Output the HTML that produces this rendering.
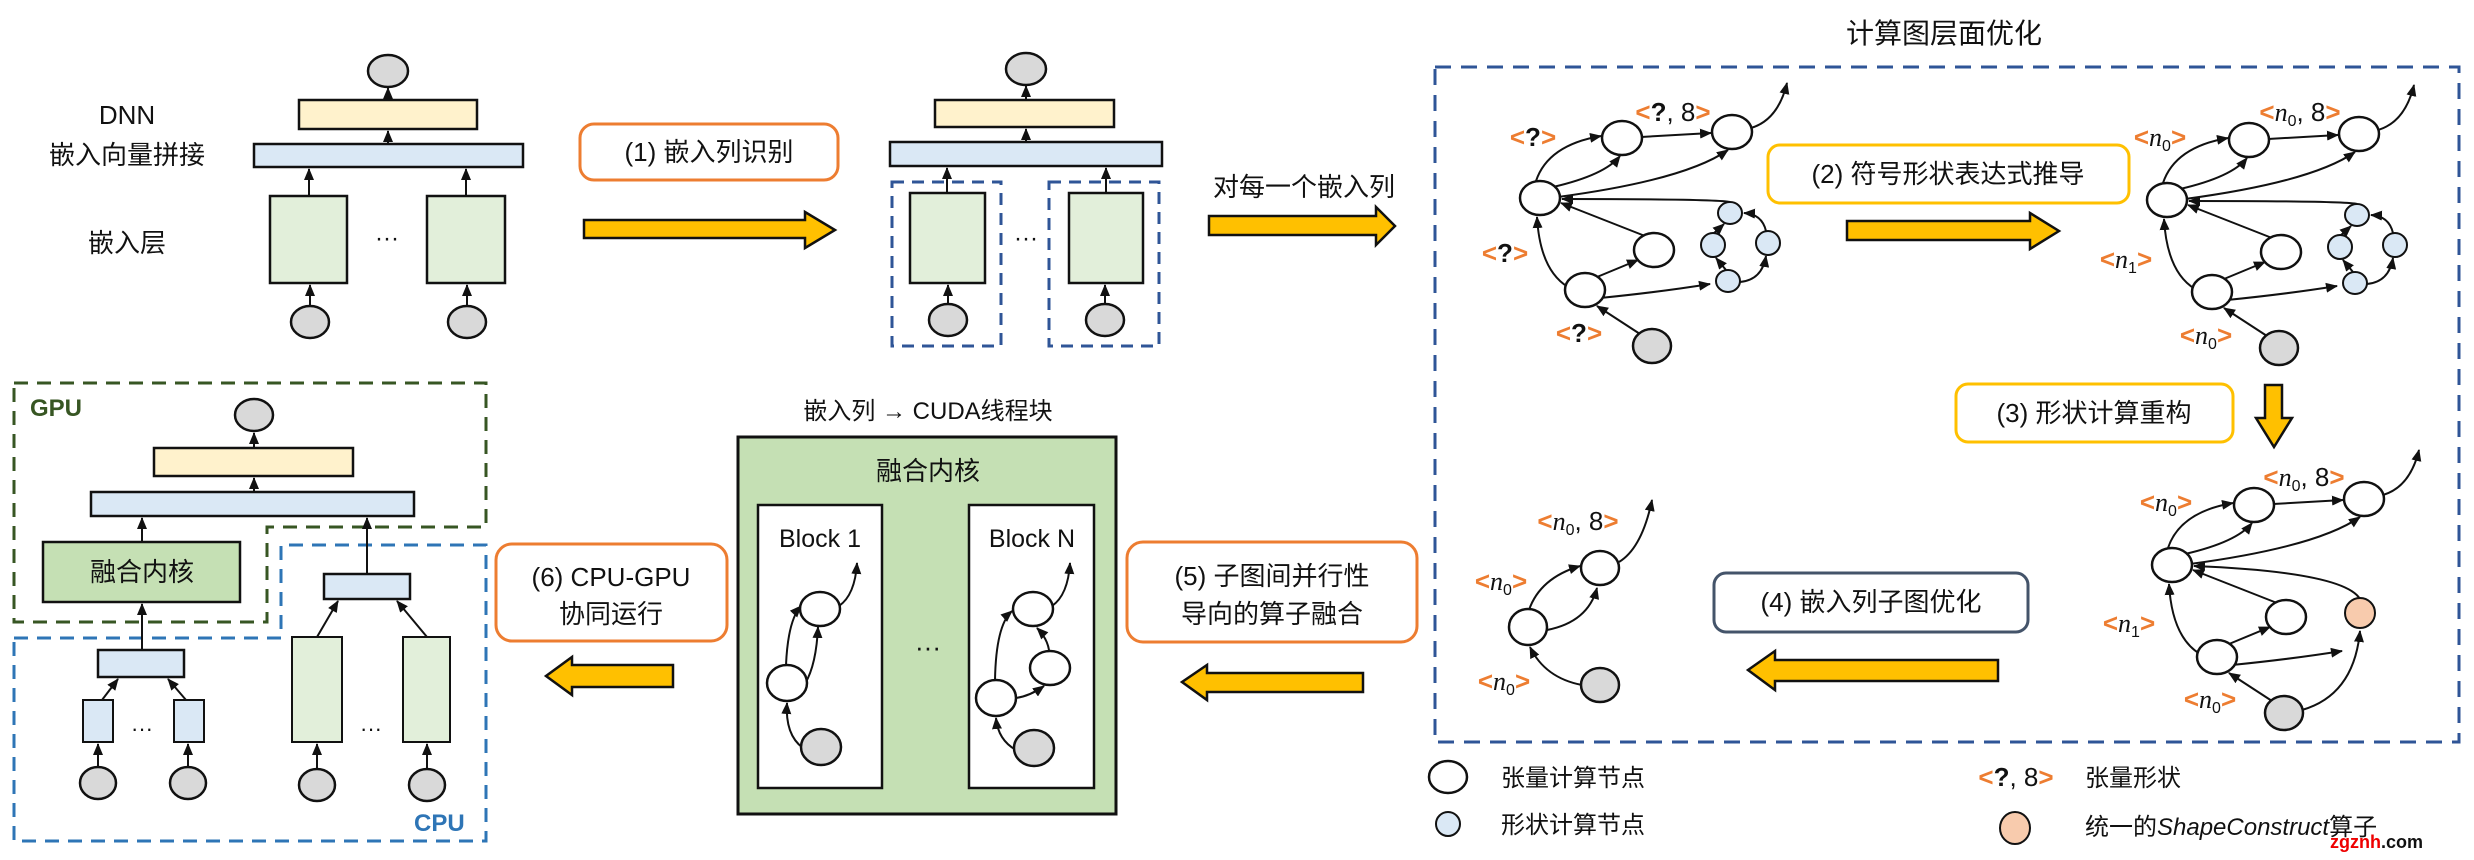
<!DOCTYPE html>
<html><head><meta charset="utf-8"><style>
html,body{margin:0;padding:0;background:#fff;}
svg{display:block;}
text{font-family:"Liberation Sans","Noto Sans CJK SC",sans-serif;fill:#111;}
.o{fill:#ed7d31;font-weight:bold;}
.q{font-weight:bold;}
.n{font-family:"Liberation Serif",serif;font-style:italic;}
.lb{font-size:26px;text-anchor:middle;}
.t26{font-size:26px;text-anchor:middle;}
.e{stroke:#111;stroke-width:2;fill:none;marker-end:url(#a);}
.nd{fill:#fff;stroke:#111;stroke-width:2.5;}
.sn{fill:#dae8f5;stroke:#111;stroke-width:2;}
.gr{fill:#d9d9d9;stroke:#111;stroke-width:2.5;}
.ya{fill:#ffc000;stroke:#111;stroke-width:2.5;}
</style></head><body>
<svg width="2474" height="860" viewBox="0 0 2474 860" xmlns="http://www.w3.org/2000/svg">
<defs>
<marker id="a" markerWidth="12" markerHeight="10" refX="11" refY="5" orient="auto" markerUnits="userSpaceOnUse"><path d="M0,0 L12,5 L0,10 z" fill="#111"/></marker>
<g id="gbase">
 <path class="e" d="M1536,181 Q1548,145 1601,136"/>
 <path class="e" d="M1641,137 L1711,133"/>
 <path class="e" d="M1553,187 Q1605,175 1620,156"/>
 <path class="e" d="M1558,197 Q1685,180 1728,150"/>
 <path class="e" d="M1751,128 Q1778,120 1787,83"/>
 <path class="e" d="M1645,236 L1561,203"/>
 <path class="e" d="M1568,287 Q1540,270 1537,217"/>
 <path class="e" d="M1597,277 L1638,260"/>
 <path class="e" d="M1600,298 Q1660,292 1710,284"/>
 <path class="e" d="M1640,334 L1597,306"/>
 <ellipse class="nd" cx="1540" cy="198" rx="20" ry="17"/>
 <ellipse class="nd" cx="1622" cy="138" rx="20" ry="17"/>
 <ellipse class="nd" cx="1732" cy="132" rx="20" ry="17"/>
 <ellipse class="nd" cx="1654" cy="250" rx="20" ry="17"/>
 <ellipse class="nd" cx="1585" cy="290" rx="20" ry="17"/>
 <ellipse class="gr" cx="1652" cy="346" rx="19" ry="17"/>
</g>
<g id="sblue">
 <path class="e" d="M1730,202 Q1720,199 1562,199"/>
 <path class="e" d="M1726,270 L1716,258"/>
 <path class="e" d="M1713,234 L1724,224"/>
 <path class="e" d="M1740,282 Q1762,280 1766,256"/>
 <path class="e" d="M1766,231 Q1762,214 1744,213"/>
 <ellipse class="sn" cx="1730" cy="213" rx="12" ry="11"/>
 <ellipse class="sn" cx="1713" cy="245" rx="12" ry="12"/>
 <ellipse class="sn" cx="1768" cy="243" rx="12" ry="12"/>
 <ellipse class="sn" cx="1728" cy="281" rx="12" ry="11"/>
</g>
</defs>

<!-- ===== top-left DNN ===== -->
<text class="t26" x="127" y="124">DNN</text>
<text class="t26" x="127" y="164">嵌入向量拼接</text>
<text class="t26" x="127" y="252">嵌入层</text>
<ellipse class="gr" cx="388" cy="71" rx="20" ry="16"/>
<line class="e" x1="388" y1="100" x2="388" y2="88"/>
<rect x="299" y="100" width="178" height="29" fill="#fff2cc" stroke="#111" stroke-width="2.5"/>
<line class="e" x1="388" y1="144" x2="388" y2="131"/>
<rect x="254" y="144" width="269" height="23" fill="#dae8f5" stroke="#111" stroke-width="2.5"/>
<line class="e" x1="309" y1="196" x2="309" y2="169"/>
<line class="e" x1="466" y1="196" x2="466" y2="169"/>
<rect x="270" y="196" width="77" height="87" fill="#e2efda" stroke="#111" stroke-width="2.5"/>
<rect x="427" y="196" width="78" height="87" fill="#e2efda" stroke="#111" stroke-width="2.5"/>
<text x="387" y="246" style="font-size:24px;text-anchor:middle">···</text>
<line class="e" x1="310" y1="306" x2="310" y2="285"/>
<line class="e" x1="467" y1="306" x2="467" y2="285"/>
<ellipse class="gr" cx="310" cy="322" rx="19" ry="16"/>
<ellipse class="gr" cx="467" cy="322" rx="19" ry="16"/>

<rect x="580" y="124" width="258" height="56" rx="14" fill="#fff" stroke="#ed7d31" stroke-width="3"/>
<text class="t26" x="709" y="161">(1) 嵌入列识别</text>
<polygon class="ya" points="584,220 805,220 805,212 835,230 805,248 805,238 584,238"/>

<!-- second DNN -->
<ellipse class="gr" cx="1026" cy="69" rx="20" ry="16"/>
<line class="e" x1="1026" y1="100" x2="1026" y2="86"/>
<rect x="935" y="100" width="179" height="27" fill="#fff2cc" stroke="#111" stroke-width="2.5"/>
<line class="e" x1="1026" y1="142" x2="1026" y2="129"/>
<rect x="890" y="142" width="272" height="24" fill="#dae8f5" stroke="#111" stroke-width="2.5"/>
<line class="e" x1="947" y1="193" x2="947" y2="168"/>
<line class="e" x1="1106" y1="193" x2="1106" y2="168"/>
<rect x="892" y="182" width="109" height="164" fill="none" stroke="#2f5597" stroke-width="3" stroke-dasharray="12,8"/>
<rect x="1049" y="182" width="110" height="164" fill="none" stroke="#2f5597" stroke-width="3" stroke-dasharray="12,8"/>
<rect x="910" y="193" width="75" height="90" fill="#e2efda" stroke="#111" stroke-width="2.5"/>
<rect x="1069" y="193" width="74" height="90" fill="#e2efda" stroke="#111" stroke-width="2.5"/>
<text x="1026" y="246" style="font-size:24px;text-anchor:middle">···</text>
<line class="e" x1="948" y1="304" x2="948" y2="285"/>
<line class="e" x1="1105" y1="304" x2="1105" y2="285"/>
<ellipse class="gr" cx="948" cy="320" rx="19" ry="16"/>
<ellipse class="gr" cx="1105" cy="320" rx="19" ry="16"/>

<text class="t26" x="1304" y="196">对每一个嵌入列</text>
<polygon class="ya" points="1209,216 1376,216 1376,207 1395,226 1376,245 1376,235 1209,235"/>

<!-- ===== right: graph optimization ===== -->
<text x="1944" y="43" style="font-size:28px;text-anchor:middle">计算图层面优化</text>
<rect x="1435" y="67" width="1024" height="675" fill="none" stroke="#2f5597" stroke-width="3" stroke-dasharray="16,10"/>

<!-- graph 1 -->
<use href="#gbase"/><use href="#sblue"/>
<text class="lb" x="1533" y="146"><tspan class="o">&lt;</tspan><tspan class="q">?</tspan><tspan class="o">&gt;</tspan></text>
<text class="lb" x="1673" y="121"><tspan class="o">&lt;</tspan><tspan class="q">?</tspan>, 8<tspan class="o">&gt;</tspan></text>
<text class="lb" x="1505" y="262"><tspan class="o">&lt;</tspan><tspan class="q">?</tspan><tspan class="o">&gt;</tspan></text>
<text class="lb" x="1579" y="342"><tspan class="o">&lt;</tspan><tspan class="q">?</tspan><tspan class="o">&gt;</tspan></text>

<rect x="1768" y="145" width="361" height="58" rx="12" fill="#fff" stroke="#ffc000" stroke-width="3"/>
<text class="t26" x="1948" y="183">(2) 符号形状表达式推导</text>
<polygon class="ya" points="1847,221 2030,221 2030,213 2059,231 2030,249 2030,240 1847,240"/>

<!-- graph 2 -->
<g transform="translate(627,2)"><use href="#gbase"/><use href="#sblue"/></g>
<text class="lb" x="2160" y="146"><tspan class="o">&lt;</tspan><tspan class="n">n</tspan><tspan font-size="16" dy="5">0</tspan><tspan class="o" dy="-5">&gt;</tspan></text>
<text class="lb" x="2300" y="121"><tspan class="o">&lt;</tspan><tspan class="n">n</tspan><tspan font-size="16" dy="5">0</tspan><tspan dy="-5">, 8</tspan><tspan class="o">&gt;</tspan></text>
<text class="lb" x="2126" y="268"><tspan class="o">&lt;</tspan><tspan class="n">n</tspan><tspan font-size="16" dy="5">1</tspan><tspan class="o" dy="-5">&gt;</tspan></text>
<text class="lb" x="2206" y="344"><tspan class="o">&lt;</tspan><tspan class="n">n</tspan><tspan font-size="16" dy="5">0</tspan><tspan class="o" dy="-5">&gt;</tspan></text>

<rect x="1956" y="384" width="277" height="58" rx="12" fill="#fff" stroke="#ffc000" stroke-width="3"/>
<text class="t26" x="2094" y="422">(3) 形状计算重构</text>
<polygon class="ya" points="2265,385 2282,385 2282,418 2292,418 2274,447 2256,418 2265,418"/>

<!-- graph 3 -->
<g transform="translate(632,367)">
 <use href="#gbase"/>
 <path class="e" d="M1728,232 Q1712,205 1562,199"/>
 <path class="e" d="M1670,343 Q1722,328 1728,264"/>
 <ellipse cx="1728" cy="246" rx="15" ry="15" fill="#f8cbad" stroke="#111" stroke-width="2"/>
</g>
<text class="lb" x="2166" y="511"><tspan class="o">&lt;</tspan><tspan class="n">n</tspan><tspan font-size="16" dy="5">0</tspan><tspan class="o" dy="-5">&gt;</tspan></text>
<text class="lb" x="2304" y="486"><tspan class="o">&lt;</tspan><tspan class="n">n</tspan><tspan font-size="16" dy="5">0</tspan><tspan dy="-5">, 8</tspan><tspan class="o">&gt;</tspan></text>
<text class="lb" x="2129" y="632"><tspan class="o">&lt;</tspan><tspan class="n">n</tspan><tspan font-size="16" dy="5">1</tspan><tspan class="o" dy="-5">&gt;</tspan></text>
<text class="lb" x="2210" y="708"><tspan class="o">&lt;</tspan><tspan class="n">n</tspan><tspan font-size="16" dy="5">0</tspan><tspan class="o" dy="-5">&gt;</tspan></text>

<rect x="1714" y="573" width="314" height="59" rx="12" fill="#fff" stroke="#44546a" stroke-width="3"/>
<text class="t26" x="1871" y="611">(4) 嵌入列子图优化</text>
<polygon class="ya" points="1998,660 1775,660 1775,651 1748,670 1775,690 1775,681 1998,681"/>

<!-- graph 4 -->
<path class="e" d="M1582,685 Q1545,678 1530,647"/>
<path class="e" d="M1529,610 Q1540,578 1580,566"/>
<path class="e" d="M1547,630 Q1588,622 1597,588"/>
<path class="e" d="M1619,562 Q1642,548 1652,500"/>
<ellipse class="nd" cx="1600" cy="568" rx="19" ry="17"/>
<ellipse class="nd" cx="1528" cy="627" rx="19" ry="18"/>
<ellipse class="gr" cx="1600" cy="685" rx="19" ry="17"/>
<text class="lb" x="1578" y="530"><tspan class="o">&lt;</tspan><tspan class="n">n</tspan><tspan font-size="16" dy="5">0</tspan><tspan dy="-5">, 8</tspan><tspan class="o">&gt;</tspan></text>
<text class="lb" x="1501" y="590"><tspan class="o">&lt;</tspan><tspan class="n">n</tspan><tspan font-size="16" dy="5">0</tspan><tspan class="o" dy="-5">&gt;</tspan></text>
<text class="lb" x="1504" y="690"><tspan class="o">&lt;</tspan><tspan class="n">n</tspan><tspan font-size="16" dy="5">0</tspan><tspan class="o" dy="-5">&gt;</tspan></text>

<!-- legend -->
<ellipse class="nd" cx="1448" cy="777" rx="19" ry="16"/>
<text x="1501" y="786" style="font-size:24px">张量计算节点</text>
<ellipse class="sn" cx="1448" cy="824" rx="12" ry="12"/>
<text x="1501" y="833" style="font-size:24px">形状计算节点</text>
<text class="lb" x="2016" y="786"><tspan class="o">&lt;</tspan><tspan class="q">?</tspan>, 8<tspan class="o">&gt;</tspan></text>
<text x="2085" y="786" style="font-size:24px">张量形状</text>
<ellipse cx="2015" cy="828" rx="15" ry="16" fill="#f8cbad" stroke="#111" stroke-width="2"/>
<text x="2085" y="835" style="font-size:24px">统一的<tspan font-style="italic">ShapeConstruct</tspan>算子</text>
<text x="2330" y="848" style="font-size:18px;font-weight:bold"><tspan fill="#e00">zgznh</tspan><tspan fill="#111">.com</tspan></text>

<!-- ===== middle: fused kernel ===== -->
<text x="928" y="419" style="font-size:24px;text-anchor:middle">嵌入列 → CUDA线程块</text>
<rect x="738" y="437" width="378" height="377" fill="#c5e0b4" stroke="#111" stroke-width="3"/>
<text x="928" y="480" style="font-size:26px;text-anchor:middle">融合内核</text>
<rect x="758" y="505" width="124" height="283" fill="#fff" stroke="#111" stroke-width="2.5"/>
<rect x="969" y="505" width="125" height="283" fill="#fff" stroke="#111" stroke-width="2.5"/>
<text x="820" y="547" style="font-size:25px;text-anchor:middle">Block 1</text>
<text x="1032" y="547" style="font-size:25px;text-anchor:middle">Block N</text>
<text x="928" y="656" style="font-size:26px;text-anchor:middle">···</text>
<!-- block1 graph -->
<path class="e" d="M803,748 Q785,735 787,703"/>
<path class="e" d="M786,665 Q788,620 801,606"/>
<path class="e" d="M802,688 Q816,670 818,627"/>
<path class="e" d="M839,606 Q855,595 857,563"/>
<ellipse class="nd" cx="820" cy="609" rx="20" ry="17"/>
<ellipse class="nd" cx="787" cy="683" rx="20" ry="18"/>
<ellipse class="gr" cx="821" cy="747" rx="20" ry="18"/>
<!-- blockN graph -->
<path class="e" d="M1016,750 Q998,740 996,718"/>
<path class="e" d="M995,680 Q996,625 1012,611"/>
<path class="e" d="M1016,698 Q1030,696 1044,686"/>
<path class="e" d="M1049,650 Q1047,638 1037,628"/>
<path class="e" d="M1052,606 Q1068,595 1070,563"/>
<ellipse class="nd" cx="1033" cy="609" rx="20" ry="17"/>
<ellipse class="nd" cx="1050" cy="668" rx="20" ry="17"/>
<ellipse class="nd" cx="996" cy="698" rx="20" ry="18"/>
<ellipse class="gr" cx="1034" cy="748" rx="20" ry="18"/>

<rect x="1127" y="542" width="290" height="100" rx="16" fill="#fff" stroke="#ed7d31" stroke-width="3"/>
<text class="t26" x="1272" y="585">(5) 子图间并行性</text>
<text class="t26" x="1272" y="623">导向的算子融合</text>
<polygon class="ya" points="1363,673 1207,673 1207,665 1182,682 1207,700 1207,692 1363,692"/>

<rect x="496" y="544" width="231" height="97" rx="16" fill="#fff" stroke="#ed7d31" stroke-width="3"/>
<text class="t26" x="611" y="586">(6) CPU-GPU</text>
<text class="t26" x="611" y="623">协同运行</text>
<polygon class="ya" points="673,665 572,665 572,657 546,676 572,695 572,687 673,687"/>

<!-- ===== bottom-left GPU/CPU ===== -->
<polygon points="14,383 486,383 486,527 267,527 267,622 14,622" fill="none" stroke="#375623" stroke-width="3" stroke-dasharray="14,9"/>
<polygon points="14,638 281,638 281,545 486,545 486,841 14,841" fill="none" stroke="#2e75b6" stroke-width="3" stroke-dasharray="14,9"/>
<text x="30" y="416" style="font-size:24px;font-weight:bold;fill:#375623">GPU</text>
<text x="414" y="831" style="font-size:24px;font-weight:bold;fill:#2e75b6">CPU</text>
<ellipse class="gr" cx="254" cy="415" rx="19" ry="16"/>
<line class="e" x1="254" y1="448" x2="254" y2="433"/>
<rect x="154" y="448" width="199" height="28" fill="#fff2cc" stroke="#111" stroke-width="2.5"/>
<line class="e" x1="254" y1="492" x2="254" y2="478"/>
<rect x="91" y="492" width="323" height="24" fill="#dae8f5" stroke="#111" stroke-width="2.5"/>
<line class="e" x1="142" y1="542" x2="142" y2="518"/>
<rect x="43" y="542" width="197" height="60" fill="#c5e0b4" stroke="#111" stroke-width="2.5"/>
<text x="142" y="581" style="font-size:26px;text-anchor:middle">融合内核</text>
<line class="e" x1="142" y1="650" x2="142" y2="604"/>
<rect x="98" y="650" width="86" height="27" fill="#dae8f5" stroke="#111" stroke-width="2.5"/>
<line class="e" x1="102" y1="700" x2="118" y2="679"/>
<line class="e" x1="186" y1="700" x2="168" y2="679"/>
<rect x="83" y="700" width="30" height="42" fill="#dae8f5" stroke="#111" stroke-width="2"/>
<rect x="174" y="700" width="30" height="42" fill="#dae8f5" stroke="#111" stroke-width="2"/>
<text x="142" y="736" style="font-size:22px;text-anchor:middle">···</text>
<line class="e" x1="98" y1="767" x2="98" y2="744"/>
<line class="e" x1="188" y1="767" x2="188" y2="744"/>
<ellipse class="gr" cx="98" cy="783" rx="18" ry="16"/>
<ellipse class="gr" cx="188" cy="783" rx="18" ry="16"/>
<line class="e" x1="367" y1="574" x2="367" y2="518"/>
<rect x="324" y="574" width="86" height="25" fill="#dae8f5" stroke="#111" stroke-width="2.5"/>
<line class="e" x1="317" y1="637" x2="338" y2="601"/>
<line class="e" x1="427" y1="637" x2="397" y2="601"/>
<rect x="292" y="637" width="50" height="105" fill="#e2efda" stroke="#111" stroke-width="2"/>
<rect x="403" y="637" width="47" height="105" fill="#e2efda" stroke="#111" stroke-width="2"/>
<text x="371" y="736" style="font-size:22px;text-anchor:middle">···</text>
<line class="e" x1="317" y1="769" x2="317" y2="744"/>
<line class="e" x1="427" y1="769" x2="427" y2="744"/>
<ellipse class="gr" cx="317" cy="785" rx="18" ry="16"/>
<ellipse class="gr" cx="427" cy="785" rx="18" ry="16"/>
</svg>
</body></html>
